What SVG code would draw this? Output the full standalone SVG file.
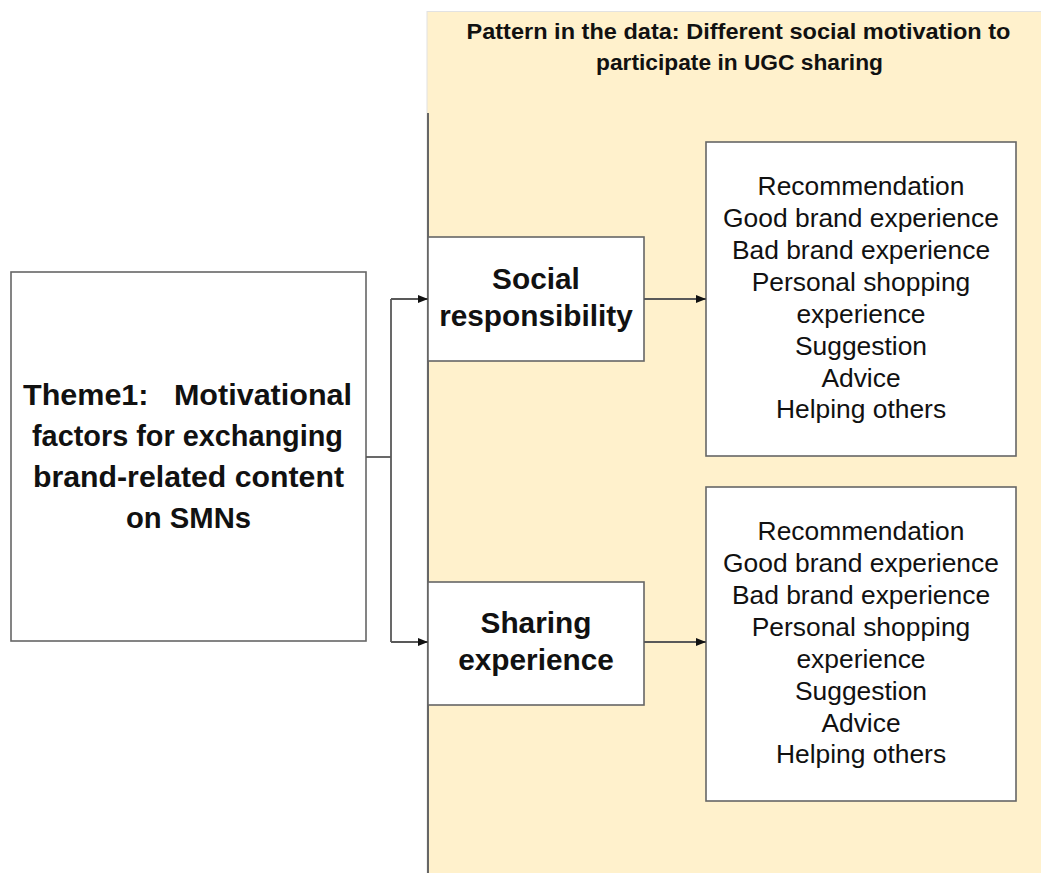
<svg xmlns="http://www.w3.org/2000/svg" width="1041" height="873" viewBox="0 0 1041 873">
<style>
.box{fill:#fff;stroke:#666;stroke-width:1.6}
.conn{fill:none;stroke:#595959;stroke-width:1.8}
.t{font-family:"Liberation Sans",Arial,sans-serif;fill:#111;text-anchor:middle}
.b{font-weight:bold}
.items{font-size:26.4px}
.mid{font-size:29.8px;font-weight:bold}
.th{font-size:29px;font-weight:bold}
</style>
<defs>
<marker id="ah" markerWidth="10" markerHeight="8" refX="10" refY="4" orient="auto" markerUnits="userSpaceOnUse">
<path d="M0,0 L10,4 L0,8 Z" fill="#111"/>
</marker>
</defs>
<rect width="1041" height="873" fill="#fff"/>
<g id="panel">
<rect x="427" y="11.5" width="620" height="870" fill="#FFF1CC" stroke="#e2e2e2" stroke-width="1"/>
<line x1="428" y1="113" x2="428" y2="873" stroke="#666" stroke-width="2"/>
<text class="t b" font-size="22" x="738.5" y="39" textLength="544" lengthAdjust="spacingAndGlyphs">Pattern in the data: Different social motivation to</text>
<text class="t b" font-size="22" x="739.5" y="70" textLength="287" lengthAdjust="spacingAndGlyphs">participate in UGC sharing</text>
</g>
<g id="theme">
<rect class="box" x="11" y="272" width="355" height="369"/>
<text class="t th" x="187.5" y="405" xml:space="preserve" textLength="329" lengthAdjust="spacingAndGlyphs">Theme1:   Motivational</text>
<text class="t th" x="187.5" y="446" textLength="311" lengthAdjust="spacingAndGlyphs">factors for exchanging</text>
<text class="t th" x="188.5" y="487" textLength="311" lengthAdjust="spacingAndGlyphs">brand-related content</text>
<text class="t th" x="188.5" y="528" textLength="125" lengthAdjust="spacingAndGlyphs">on SMNs</text>
</g>
<g id="social">
<rect class="box" x="428" y="237" width="216" height="124"/>
<text class="t mid" x="536" y="289">Social</text>
<text class="t mid" x="536" y="326">responsibility</text>
</g>
<g id="sharing">
<rect class="box" x="428" y="582" width="216" height="123"/>
<text class="t mid" x="536" y="633">Sharing</text>
<text class="t mid" x="536" y="670">experience</text>
</g>
<g id="items1">
<rect class="box" x="706" y="142" width="310" height="314"/>
<text class="t items" x="861" y="195">Recommendation</text>
<text class="t items" x="861" y="227">Good brand experience</text>
<text class="t items" x="861" y="259">Bad brand experience</text>
<text class="t items" x="861" y="291">Personal shopping</text>
<text class="t items" x="861" y="323">experience</text>
<text class="t items" x="861" y="355">Suggestion</text>
<text class="t items" x="861" y="387">Advice</text>
<text class="t items" x="861" y="418">Helping others</text>
</g>
<g id="items2">
<rect class="box" x="706" y="487" width="310" height="314"/>
<text class="t items" x="861" y="540">Recommendation</text>
<text class="t items" x="861" y="572">Good brand experience</text>
<text class="t items" x="861" y="604">Bad brand experience</text>
<text class="t items" x="861" y="636">Personal shopping</text>
<text class="t items" x="861" y="668">experience</text>
<text class="t items" x="861" y="700">Suggestion</text>
<text class="t items" x="861" y="732">Advice</text>
<text class="t items" x="861" y="763">Helping others</text>
</g>
<g id="connectors">
<path class="conn" d="M366,457 H391"/>
<path class="conn" d="M391,299 V642"/>
<path class="conn" d="M391,299 H428" marker-end="url(#ah)"/>
<path class="conn" d="M391,642 H428" marker-end="url(#ah)"/>
<path class="conn" d="M644,299 H706" marker-end="url(#ah)"/>
<path class="conn" d="M644,642 H706" marker-end="url(#ah)"/>
</g>
</svg>
